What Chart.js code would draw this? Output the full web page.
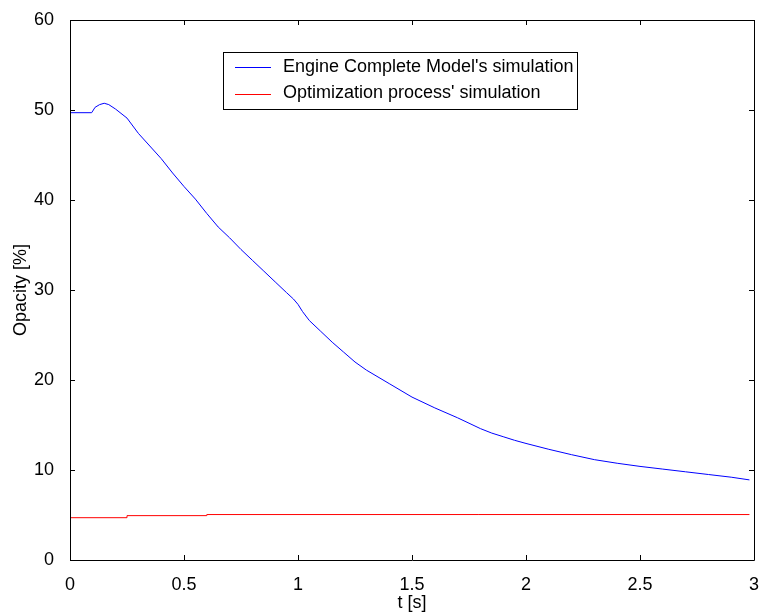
<!DOCTYPE html>
<html>
<head>
<meta charset="utf-8">
<script src="https://cdn.jsdelivr.net/npm/chart.js@4.4.0/dist/chart.umd.min.js"></script>
<style>
  html, body { margin: 0; padding: 0; background: #fff; }
  #wrap { width: 759px; height: 616px; }
</style>
</head>
<body>
<div id="wrap"><canvas id="opacityChart" width="759" height="616"></canvas></div>
<script>
// Time samples [s] and opacity [%] of the complete engine model
const engineTime = [0, 0.095, 0.11, 0.13, 0.15, 0.17, 0.2, 0.25, 0.3, 0.35, 0.4, 0.45, 0.5, 0.55, 0.6, 0.65, 0.7, 0.75, 0.8, 0.85, 0.9, 0.95, 0.98, 1.0, 1.02, 1.05, 1.1, 1.15, 1.2, 1.25, 1.3, 1.4, 1.5, 1.6, 1.7, 1.75, 1.8, 1.85, 1.9, 1.95, 2.0, 2.1, 2.2, 2.3, 2.4, 2.5, 2.6, 2.7, 2.8, 2.9, 2.98];
const engineOpacity = [49.7, 49.7, 50.3, 50.6, 50.75, 50.6, 50.1, 49.1, 47.4, 46.0, 44.6, 43.0, 41.5, 40.1, 38.5, 37.0, 35.8, 34.5, 33.3, 32.1, 30.9, 29.7, 29.0, 28.4, 27.6, 26.6, 25.4, 24.2, 23.1, 22.0, 21.1, 19.6, 18.1, 16.9, 15.8, 15.2, 14.6, 14.1, 13.7, 13.3, 12.95, 12.3, 11.7, 11.15, 10.75, 10.4, 10.1, 9.8, 9.5, 9.2, 8.9];

// Optimization process output (step-wise)
const optimTime = [0, 0.25, 0.25, 0.6, 0.6, 2.98];
const optimOpacity = [4.7, 4.7, 4.93, 4.93, 5.05, 5.05];

const xTicks = [0, 0.5, 1, 1.5, 2, 2.5, 3];
const yTicks = [0, 10, 20, 30, 40, 50, 60];

const seriesLabels = ["Engine Complete Model's simulation", "Optimization process' simulation"];
const seriesColors = ["#0000ff", "#ff0000"];

const toPoints = (xs, ys) => xs.map((x, i) => ({ x: x, y: ys[i] }));

const FONT = "'Liberation Sans', Arial, sans-serif";
const FSIZE = 18;

// Box around the plot with inward ticks on all four sides
const boxPlugin = {
  id: "box",
  afterDraw(chart) {
    const ctx = chart.ctx;
    const a = chart.chartArea;
    const xs = chart.scales.x;
    const ys = chart.scales.y;
    const len = 5;
    ctx.save();
    ctx.strokeStyle = "#000";
    ctx.lineWidth = 1;
    ctx.beginPath();
    ctx.rect(Math.round(a.left) + 0.5, Math.round(a.top) + 0.5, Math.round(a.right - a.left), Math.round(a.bottom - a.top));
    xTicks.forEach(v => {
      const px = Math.round(xs.getPixelForValue(v)) + 0.5;
      ctx.moveTo(px, a.bottom);
      ctx.lineTo(px, a.bottom - len);
      ctx.moveTo(px, a.top);
      ctx.lineTo(px, a.top + len);
    });
    yTicks.forEach(v => {
      const py = Math.round(ys.getPixelForValue(v)) + 0.5;
      ctx.moveTo(a.left, py);
      ctx.lineTo(a.left + len, py);
      ctx.moveTo(a.right, py);
      ctx.lineTo(a.right - len, py);
    });
    ctx.stroke();
    ctx.restore();
  }
};

// Legend box inside the plot
const legendPlugin = {
  id: "innerLegend",
  afterDraw(chart) {
    const ctx = chart.ctx;
    const left = 223, top = 52, w = 354, h = 57;
    ctx.save();
    ctx.fillStyle = "#fff";
    ctx.fillRect(left, top, w, h);
    ctx.strokeStyle = "#000";
    ctx.lineWidth = 1;
    ctx.strokeRect(left + 0.5, top + 0.5, w, h);
    ctx.font = FSIZE + "px " + FONT;
    ctx.textBaseline = "middle";
    chart.data.datasets.forEach((ds, i) => {
      const y = top + 15 + i * 26.5;
      ctx.strokeStyle = ds.borderColor;
      ctx.beginPath();
      ctx.moveTo(left + 12, Math.round(y) + 0.5);
      ctx.lineTo(left + 48, Math.round(y) + 0.5);
      ctx.stroke();
      ctx.fillStyle = "#000";
      ctx.fillText(ds.label, left + 60, y);
    });
    ctx.restore();
  }
};

new Chart(document.getElementById("opacityChart"), {
  type: "line",
  data: {
    datasets: [
      {
        label: seriesLabels[0],
        data: toPoints(engineTime, engineOpacity),
        borderColor: seriesColors[0],
        borderWidth: 1,
        pointRadius: 0,
        tension: 0
      },
      {
        label: seriesLabels[1],
        data: toPoints(optimTime, optimOpacity),
        borderColor: seriesColors[1],
        borderWidth: 1,
        pointRadius: 0,
        tension: 0
      }
    ]
  },
  options: {
    responsive: false,
    animation: false,
    layout: { padding: { top: 20, right: 5, left: 0, bottom: 0 } },
    plugins: {
      legend: { display: false },
      tooltip: { enabled: false }
    },
    scales: {
      x: {
        type: "linear",
        min: 0,
        max: 3,
        afterBuildTicks: s => { s.ticks = xTicks.map(v => ({ value: v })); },
        afterFit: s => { s.height = 56; s.paddingLeft = 0; s.paddingRight = 0; },
        grid: { display: false },
        border: { display: false },
        ticks: {
          color: "#000", font: { family: FONT, size: FSIZE }, padding: 6, maxRotation: 0, autoSkip: false,
          callback: v => String(v)
        },
        title: { display: true, text: "t [s]", color: "#000", font: { family: FONT, size: FSIZE }, padding: { top: 0, bottom: 2 } }
      },
      y: {
        min: 0,
        max: 60,
        afterBuildTicks: s => { s.ticks = yTicks.map(v => ({ value: v })); },
        afterFit: s => { s.width = 70; },
        grid: { display: false },
        border: { display: false },
        ticks: { color: "#000", font: { family: FONT, size: FSIZE }, padding: 8 },
        title: { display: true, text: "Opacity [%]", color: "#000", font: { family: FONT, size: FSIZE }, padding: { top: 10, bottom: 0 } }
      }
    }
  },
  plugins: [boxPlugin, legendPlugin]
});
</script>
</body>
</html>
